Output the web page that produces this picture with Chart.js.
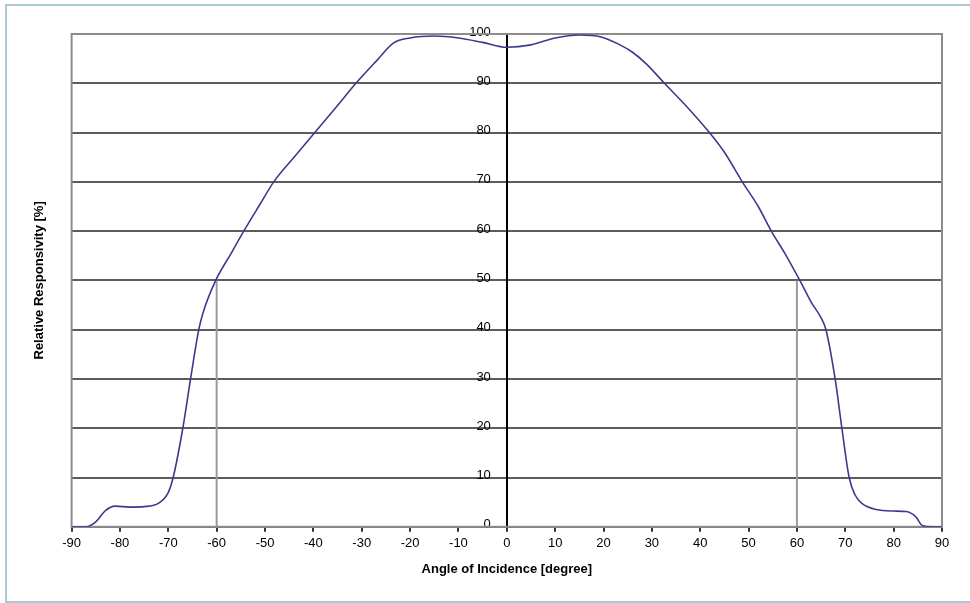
<!DOCTYPE html>
<html>
<head>
<meta charset="utf-8">
<script src="https://cdn.jsdelivr.net/npm/chart.js@4/dist/chart.umd.min.js"></script>
<style>
  html, body { margin: 0; padding: 0; background: #fff; overflow: hidden; }
  #box {
    position: absolute; left: 5px; top: 4px;
    width: 963px; height: 595px;
    border-left: 2px solid #aac8d8; border-top: 2px solid #aac8d8; border-bottom: 2px solid #aac8d8;
  }
  #chart { display: block; }
</style>
</head>
<body>
<div id="box"><canvas id="chart" width="963" height="595"></canvas></div>
<script>
// angle of incidence [deg] and relative responsivity [%]
var angles = [-90, -87, -85, -83, -81, -78, -75, -72, -70, -69, -67, -65.4, -63.7, -62.8,
  -60.2, -57, -54.4, -51, -48.2, -44, -39.7, -35, -31.2, -27, -23.4, -20, -15, -10, -5,
  0, 5, 10, 15, 19.5, 23, 26, 29, 32.6, 37, 41.9, 45, 48.7, 52, 54.7, 57.5, 60.6, 63,
  65, 66, 67.9, 69.3, 70.8, 72, 73.5, 76.4, 80, 82.6, 84.6, 86, 88, 90];
var responsivity = [0, 0, 1, 3.3, 4.2, 4.0, 4.1, 4.8, 7, 10, 20, 30, 40, 43.5,
  50, 55.5, 60, 65.5, 70, 75, 80, 85.5, 90, 94.5, 98.2, 99.2, 99.6, 99.2, 98.3,
  97.3, 97.8, 99.2, 99.8, 99.4, 98, 96.3, 93.8, 90, 85.5, 80, 76, 70, 65, 60, 55.5, 50, 45.5,
  42.4, 40, 30, 20, 10, 6.5, 4.7, 3.5, 3.2, 3.1, 2, 0.2, 0, 0];

// half-power drop lines
var dropAngles = [-60, 60];
var dropLevel = 50;

var xTitle = 'Angle of Incidence [degree]';
var yTitle = 'Relative Responsivity [%]';

var pts = angles.map(function (a, i) { return {x: a, y: responsivity[i]}; });

var dropSets = dropAngles.map(function (a) {
  return {
    data: [{x: a, y: 0}, {x: a, y: dropLevel}],
    borderColor: '#9a9a9a',
    borderWidth: 2,
    pointRadius: 0,
    order: 2
  };
});

// gray frame round the plot area
var frame = {
  id: 'frame',
  beforeDatasetsDraw: function (chart) {
    var a = chart.chartArea, c = chart.ctx;
    c.save();
    c.strokeStyle = '#8c8c8c';
    c.lineWidth = 2;
    c.strokeRect(a.left, a.top, a.right - a.left, a.bottom - a.top);
    c.restore();
  }
};

Chart.defaults.font.family = '"Liberation Sans", Arial, sans-serif';
Chart.defaults.color = '#000';

new Chart(document.getElementById('chart'), {
  type: 'line',
  data: {
    datasets: [{
      data: pts,
      borderColor: '#3b3b8e',
      borderWidth: 1.6,
      pointRadius: 0,
      cubicInterpolationMode: 'monotone',
      order: 1
    }].concat(dropSets)
  },
  options: {
    responsive: false,
    animation: false,
    layout: { padding: { left: 21, right: 28, top: 28, bottom: 20 } },
    plugins: { legend: { display: false }, tooltip: { enabled: false } },
    scales: {
      x: {
        type: 'linear', position: 'bottom',
        min: -90, max: 90,
        ticks: { stepSize: 10, font: { size: 13 }, padding: 4, maxRotation: 0 },
        grid: { drawOnChartArea: false, tickLength: 5, color: '#333', lineWidth: 2 },
        border: { color: '#666', width: 2 },
        title: { display: true, text: xTitle, font: { size: 13, weight: 'bold' }, padding: { top: 6 } }
      },
      // centre axis: gridlines, border and tick marks
      y: {
        type: 'linear',
        position: { x: 0 },
        min: 0, max: 100,
        ticks: { stepSize: 10, display: false },
        grid: { color: '#5c5c5c', lineWidth: 2, tickLength: 7 },
        border: { color: '#000', width: 2 }
      },
      // tick labels sit just left of the centre axis
      yl: {
        type: 'linear', axis: 'y',
        position: { x: -3.3 },
        min: 0, max: 100,
        ticks: { stepSize: 10, font: { size: 13 }, labelOffset: -2 },
        grid: { display: false },
        border: { display: false }
      },
      yt: {
        type: 'linear', position: 'left', axis: 'y',
        ticks: { display: false },
        grid: { display: false },
        border: { display: false },
        title: { display: true, text: yTitle, font: { size: 13, weight: 'bold' }, padding: { top: 4, bottom: 16 } }
      }
    }
  },
  plugins: [frame]
});
</script>
</body>
</html>
